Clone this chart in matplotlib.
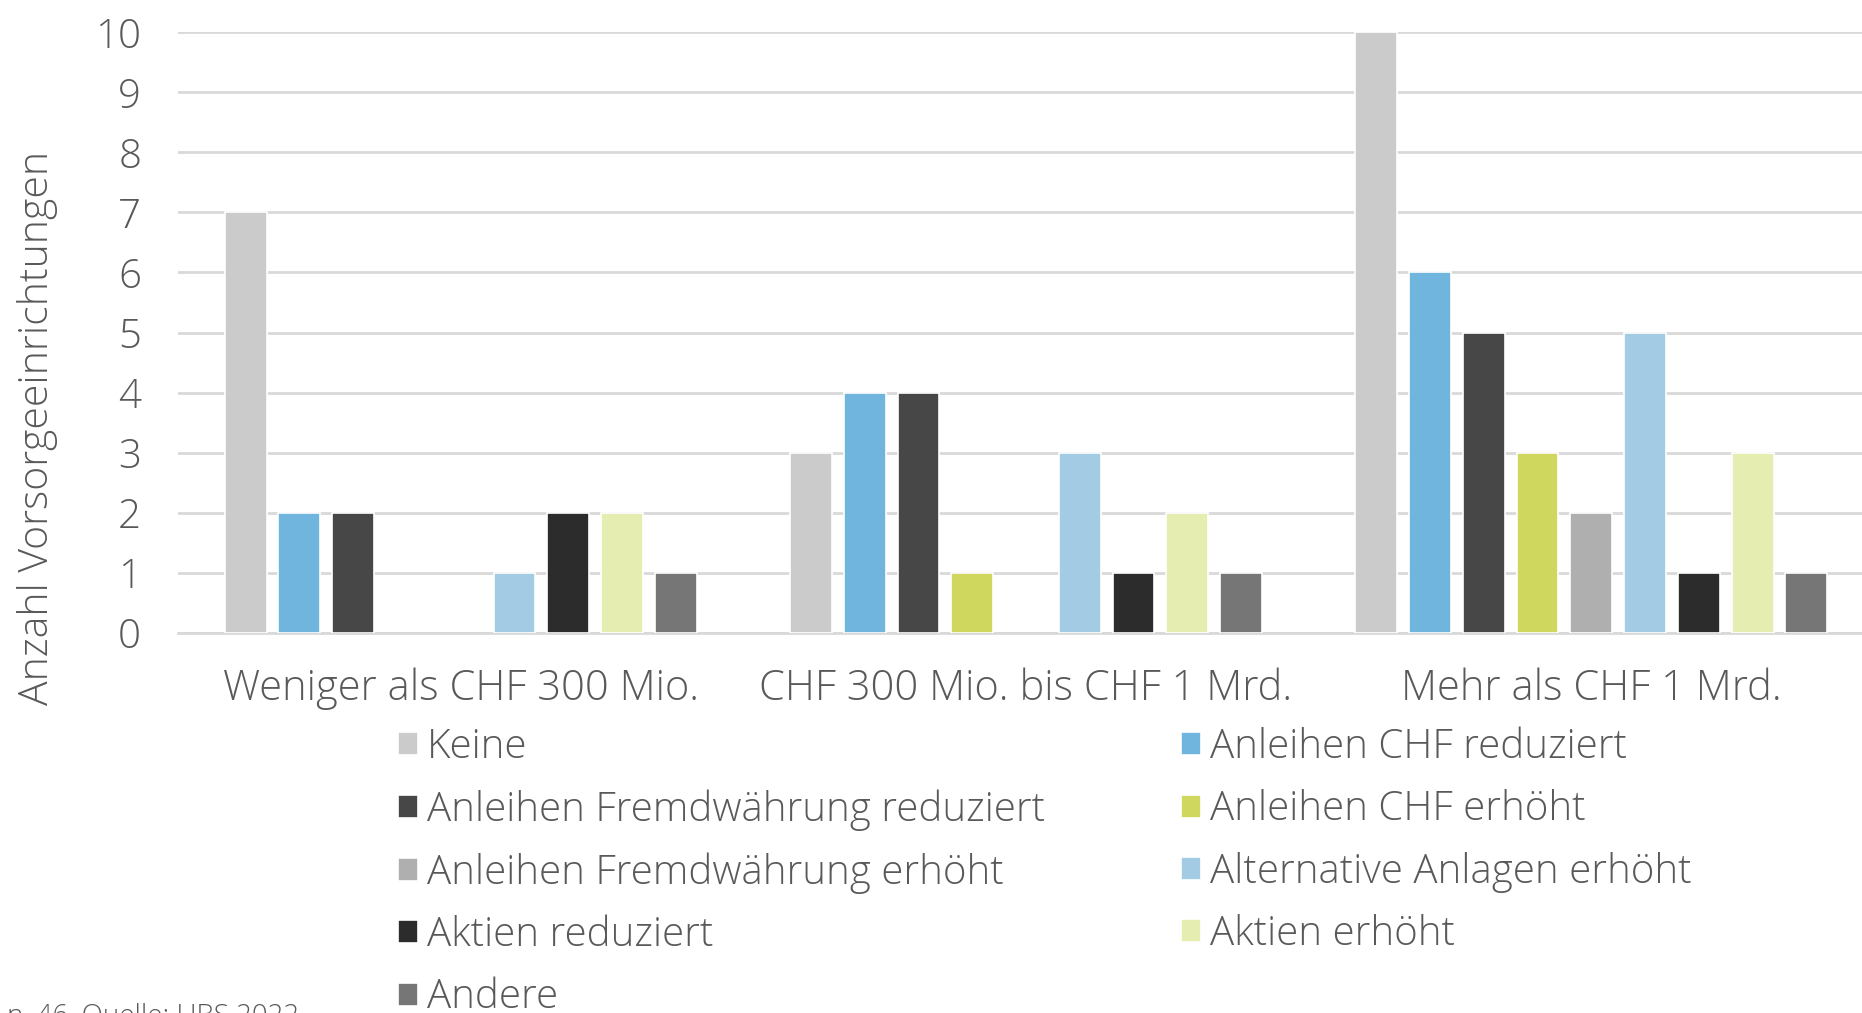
import matplotlib
matplotlib.use('Agg')
import matplotlib.pyplot as plt
from matplotlib.patches import Patch
import numpy as np

plt.rcParams['font.family'] = ['Open Sans', 'DejaVu Sans']
plt.rcParams['font.weight'] = 'light'

groups = ['Weniger als CHF 300 Mio.', 'CHF 300 Mio. bis CHF 1 Mrd.', 'Mehr als CHF 1 Mrd.']
series = ['Keine', 'Anleihen CHF reduziert', 'Anleihen Fremdwährung reduziert',
          'Anleihen CHF erhöht', 'Anleihen Fremdwährung erhöht', 'Alternative Anlagen erhöht',
          'Aktien reduziert', 'Aktien erhöht', 'Andere']
colors = ['#CBCBCB', '#6FB5DD', '#474747', '#CFD75E', '#AFAFAF', '#A3CCE4',
          '#2C2C2C', '#E6EDB1', '#767676']

keine = [7, 3, 10]
chf_red = [2, 4, 6]
fw_red = [2, 4, 5]
chf_erh = [0, 1, 3]
fw_erh = [0, 0, 2]
alt_erh = [1, 3, 5]
akt_red = [2, 1, 1]
akt_erh = [2, 2, 3]
andere = [1, 1, 1]
values = [keine, chf_red, fw_red, chf_erh, fw_erh, alt_erh, akt_red, akt_erh, andere]

txt = '#595959'
fig = plt.figure(figsize=(18.62, 10.13), dpi=100)
# plot area runs slightly past the right edge, like the original export
ax = fig.add_axes([178/1862, 380/1013, 1696/1862, 601/1013])

x = np.arange(len(groups))
step = 0.0951
for i, (name, vals, c) in enumerate(zip(series, values, colors)):
    b = ax.bar(x + (i - 4) * step, vals, width=0.074, color=c,
               edgecolor='white', linewidth=1.2, zorder=3)
    for p in b.patches:
        if p.get_height() == 0:
            p.set_visible(False)

ax.set_xlim(-0.5, 2.5)
ax.set_ylim(0, 10)
ax.set_yticks(range(0, 11))
ax.grid(axis='y', color='#D9D9D9', linewidth=2, zorder=0)
for s in ['top', 'right', 'left']:
    ax.spines[s].set_visible(False)
ax.spines['bottom'].set_color('#D9D9D9')
ax.spines['bottom'].set_linewidth(2)
ax.tick_params(axis='both', length=0, colors=txt)
ax.tick_params(axis='y', labelsize=29, pad=26.5)
ax.tick_params(axis='x', labelsize=30, pad=24.5)
ax.set_xticks(x)
ax.set_xticklabels(groups)

fig.text(38/1862, 1 - 428/1013, 'Anzahl Vorsorgeeinrichtungen', rotation=90,
         ha='center', va='center', fontsize=29.5, color=txt)

# legend: column-major order so rows read left to right
order = [0, 2, 4, 6, 8, 1, 3, 5, 7]
handles = [Patch(facecolor=colors[k], edgecolor='white', linewidth=1.2) for k in order]
leg = fig.legend(handles, [series[k] for k in order],
                 ncol=2, loc='upper left', bbox_to_anchor=(398/1862, 1 - 727/1013),
                 frameon=False, fontsize=29, handlelength=0.5, handleheight=0.5,
                 handletextpad=0.22, labelspacing=0.53, columnspacing=3.37,
                 borderpad=0, borderaxespad=0)
for t in leg.get_texts():
    t.set_color(txt)

fig.text(0.004, -0.017, 'n, 46, Quelle: UBS 2022', fontsize=20, color=txt,
         ha='left', va='bottom')

fig.savefig('out.png', dpi=100)
